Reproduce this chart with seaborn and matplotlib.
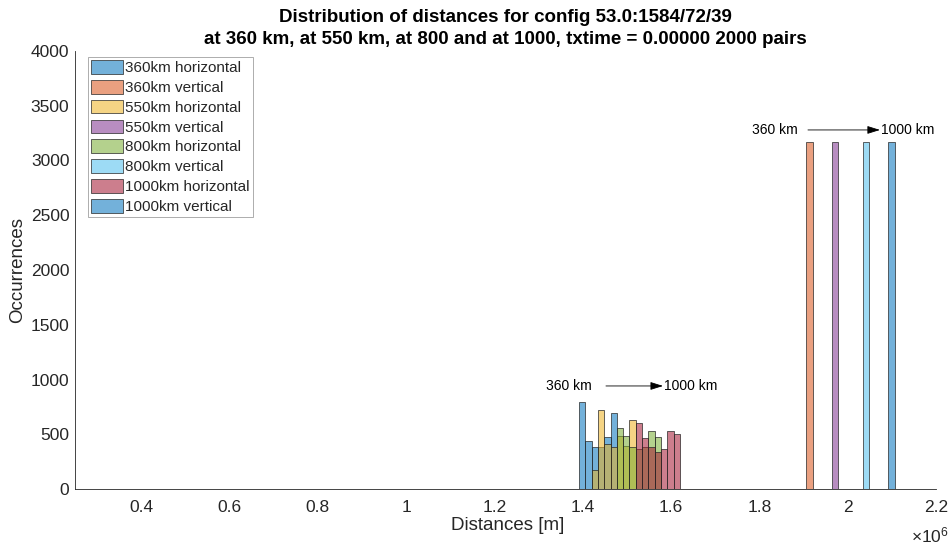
import numpy as np
import pandas as pd
import matplotlib
matplotlib.use("Agg")
import matplotlib.pyplot as plt
import seaborn as sns
from matplotlib.ticker import FuncFormatter

# ---------------- data ----------------
bin_start = 1.3914e6      # first bin edge [m]
bin_width = 14300.0       # bin width [m]
n_bins = 50

series_labels = ["360km horizontal", "360km vertical", "550km horizontal", "550km vertical",
                 "800km horizontal", "800km vertical", "1000km horizontal", "1000km vertical"]

# first occupied bin index and the counts from there on
h360_first = 0
h360_counts = [792, 438, 387, 387, 478, 697]
v360_first = 36
v360_counts = [3172]
h550_first = 2
h550_counts = [173, 721, 411, 387, 480, 390, 630]
v550_first = 40
v550_counts = [3172]
h800_first = 6
h800_counts = [554, 484, 387, 362, 387, 530, 478]
v800_first = 45
v800_counts = [3172]
h1000_first = 9
h1000_counts = [600, 463, 387, 335, 365, 530, 505]
v1000_first = 49
v1000_counts = [3172]

series_first = [h360_first, v360_first, h550_first, v550_first,
                h800_first, v800_first, h1000_first, v1000_first]
series_counts = [h360_counts, v360_counts, h550_counts, v550_counts,
                 h800_counts, v800_counts, h1000_counts, v1000_counts]

colors = ["#0072BD", "#D95319", "#EDB120", "#7E2F8E",
          "#77AC30", "#4DBEEE", "#A2142F", "#0072BD"]

x_ticks = [0.4e6, 0.6e6, 0.8e6, 1.0e6, 1.2e6, 1.4e6, 1.6e6, 1.8e6, 2.0e6, 2.2e6]
y_ticks = [0, 500, 1000, 1500, 2000, 2500, 3000, 3500, 4000]

title_line1 = "Distribution of distances for config 53.0:1584/72/39"
title_line2 = "at 360 km, at 550 km, at 800 and at 1000, txtime = 0.00000 2000 pairs"

# annotation arrows: (label right end, arrow start x, arrow end x, y)
arrow_low = (1.421e6, 1.4525e6, 1.5817e6, 941)
arrow_high = (1.887e6, 1.910e6, 2.073e6, 3279)

# ---------------- build table ----------------
edges = bin_start + bin_width * np.arange(n_bins + 1)
centers = (edges[:-1] + edges[1:]) / 2
rows = []
for lab, first, cnts in zip(series_labels, series_first, series_counts):
    full = np.zeros(n_bins)
    full[first:first + len(cnts)] = cnts
    for c, w in zip(centers, full):
        rows.append({"series": lab, "distance": float(c), "count": float(w)})
df = pd.DataFrame(rows)

# ---------------- style ----------------
sns.set_style("white")
plt.rcParams["font.family"] = ["Liberation Sans", "DejaVu Sans"]
plt.rcParams["mathtext.fontset"] = "custom"
plt.rcParams["mathtext.rm"] = "Liberation Sans"
plt.rcParams["mathtext.it"] = "Liberation Sans:italic"

dark = "#262626"
fig = plt.figure(figsize=(9.52, 5.45), dpi=100)
W, H = 952, 545
ax = fig.add_axes([75 / W, 56 / H, 861 / W, 438 / H])

edge_list = [float(e) for e in edges]
for lab, col in zip(series_labels, colors):
    sub = df[df["series"] == lab]
    sns.histplot(data=sub, x="distance", weights="count", bins=edge_list,
                 color=col, alpha=0.55, edgecolor=(0.15, 0.15, 0.15),
                 linewidth=0.5, label=lab, ax=ax, stat="count")

ax.set_xlim(0.25e6, 2.2e6)
ax.set_ylim(0, 4000)
ax.set_xticks(x_ticks)
ax.set_yticks(y_ticks)
ax.xaxis.set_major_formatter(FuncFormatter(lambda v, p: f"{v / 1e6:g}"))

for s in ["top", "right"]:
    ax.spines[s].set_visible(False)
for s in ["left", "bottom"]:
    ax.spines[s].set_color(dark)
    ax.spines[s].set_linewidth(0.6)

ax.tick_params(axis="both", direction="in", length=5, width=0.6, color=dark,
               labelsize=12.5, labelcolor=dark)
ax.tick_params(axis="x", pad=8)
ax.tick_params(axis="y", pad=4)

ax.set_xlabel("")
ax.set_ylabel("")
fig.text(508 / W, 1 - 525 / H, "Distances [m]", ha="center", va="center",
         fontsize=13.5, color=dark)
fig.text(18 / W, 1 - 270 / H, "Occurrences", ha="center", va="center",
         rotation=90, fontsize=13.5, color=dark)
fig.text(949 / W, 1 - 535 / H, r"$\mathregular{\times10^{6}}$", ha="right",
         va="center", fontsize=12.5, color=dark)

fig.text(505.5 / W, 1 - 17 / H, title_line1, ha="center", va="center",
         fontsize=13.5, fontweight="bold", color="black")
fig.text(505.5 / W, 1 - 40 / H, title_line2, ha="center", va="center",
         fontsize=13.5, fontweight="bold", color="black")

leg = ax.legend(loc="upper left", bbox_to_anchor=(0.015, 0.986), borderaxespad=0,
                frameon=True, fancybox=False, edgecolor="#a0a0a0", framealpha=1,
                fontsize=11, handlelength=2.1, handleheight=1.0,
                handletextpad=0.15, labelspacing=0.31, borderpad=0.2)
leg.get_frame().set_linewidth(0.6)

for (tx, ax0, ax1, yy) in [arrow_low, arrow_high]:
    ax.annotate("", xy=(ax1, yy), xytext=(ax0, yy),
                arrowprops=dict(arrowstyle="-|>,head_length=0.7,head_width=0.22",
                                lw=0.6, color="black",
                                mutation_scale=11, shrinkA=0, shrinkB=0))
    ax.text(tx, yy, "360 km", ha="right", va="center", fontsize=10, color="black")
    ax.text(ax1 + 3000, yy, "1000 km", ha="left", va="center", fontsize=10, color="black")

fig.savefig("out.png", dpi=100)
